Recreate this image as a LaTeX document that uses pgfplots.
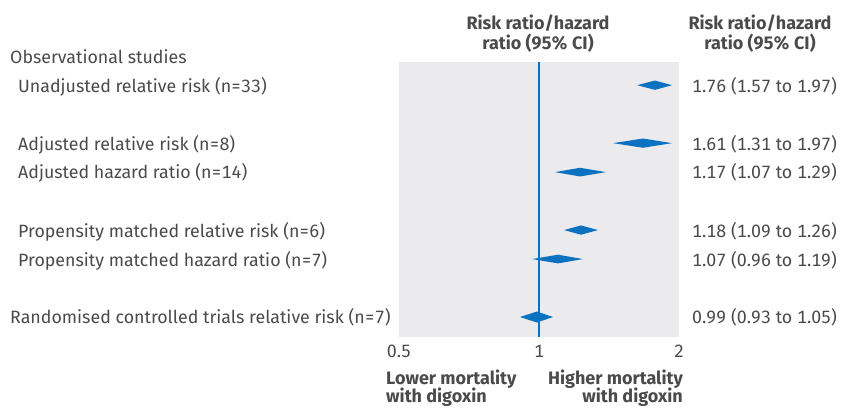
\documentclass[border=0pt]{standalone}
\usepackage{fontspec}
\setmainfont{Fira Sans}[Numbers=Monospaced]
\usepackage{pgfplots}
\pgfplotsset{compat=1.18}

\definecolor{txt}{HTML}{4A4A4A}
\definecolor{bmjblue}{HTML}{0A72C0}
\definecolor{panel}{HTML}{EBEBED}

\newcommand\fs{\fontsize{17.8bp}{21bp}\selectfont}
\newcommand\fb{\fontsize{18bp}{21bp}\selectfont\bfseries}

\begin{document}
\begin{tikzpicture}[x=1bp,y=1bp,font=\fs,text=txt,every node/.style={inner sep=0pt}]
\path[use as bounding box] (0,0) rectangle (845,408);
\begin{axis}[
    at={(399bp,71bp)}, anchor=south west,
    scale only axis, width=280bp, height=275bp,
    xmode=log, xmin=0.5, xmax=2,
    ymin=0.2, ymax=9.69, y dir=reverse,
    axis background/.style={fill=panel},
    axis line style={draw=none},
    major tick length=0pt,
    xtick={0.5,1,2}, xticklabels={0.5,1,2},
    ytick=\empty,
    /pgf/number format/assume math mode=true,
    xticklabel style={font=\fs, text=txt, anchor=base, yshift=-20bp},
    clip=false,
]
% line of no effect
\addplot[bmjblue, line width=1.2bp] coordinates {(1,0.2) (1,9.69)};
% pooled estimates (lower, estimate, upper as drawn)
\addplot[fill=bmjblue, draw=none] coordinates {(1.625,1) (1.776,0.84) (1.932,1) (1.776,1.16)} -- cycle;
\addplot[fill=bmjblue, draw=none] coordinates {(1.443,3) (1.673,2.84) (1.932,3) (1.673,3.16)} -- cycle;
\addplot[fill=bmjblue, draw=none] coordinates {(1.082,4) (1.225,3.85) (1.393,4) (1.225,4.15)} -- cycle;
\addplot[fill=bmjblue, draw=none] coordinates {(1.132,6) (1.231,5.84) (1.339,6) (1.231,6.16)} -- cycle;
\addplot[fill=bmjblue, draw=none] coordinates {(0.966,7) (1.099,6.85) (1.243,7) (1.099,7.15)} -- cycle;
\addplot[fill=bmjblue, draw=none] coordinates {(0.910,9) (0.990,8.81) (1.072,9) (0.990,9.19)} -- cycle;
\end{axis}

% row labels
\node[anchor=base west] at (10,345) {Observational studies};
\node[anchor=base west] at (18,316) {Unadjusted relative risk (n=33)};
\node[anchor=base west] at (18,258) {Adjusted relative risk (n=8)};
\node[anchor=base west] at (18,230) {Adjusted hazard ratio (n=14)};
\node[anchor=base west] at (18,171) {Propensity matched relative risk (n=6)};
\node[anchor=base west] at (18,142) {Propensity matched hazard ratio (n=7)};
\node[anchor=base west] at (10,85) {Randomised controlled trials relative risk (n=7)};

% estimates column
\node[anchor=base west] at (692,316) {1.76 (1.57 to 1.97)};
\node[anchor=base west] at (692,258) {1.61 (1.31 to 1.97)};
\node[anchor=base west] at (692,230) {1.17 (1.07 to 1.29)};
\node[anchor=base west] at (692,171) {1.18 (1.09 to 1.26)};
\node[anchor=base west] at (692,142) {1.07 (0.96 to 1.19)};
\node[anchor=base west] at (692,85) {0.99 (0.93 to 1.05)};

% headers
\node[anchor=base, font=\fb] at (538,379) {Risk ratio/hazard};
\node[anchor=base, font=\fb] at (538,359) {ratio (95\% CI)};
\node[anchor=base, font=\fb] at (760,379) {Risk ratio/hazard};
\node[anchor=base, font=\fb] at (760,359) {ratio (95\% CI)};

% direction labels
\node[anchor=base west, font=\fb] at (386,24) {Lower mortality};
\node[anchor=base west, font=\fb] at (386,6) {with digoxin};
\node[anchor=base east, font=\fb] at (683,24) {Higher mortality};
\node[anchor=base east, font=\fb] at (683,6) {with digoxin};
\end{tikzpicture}
\end{document}
